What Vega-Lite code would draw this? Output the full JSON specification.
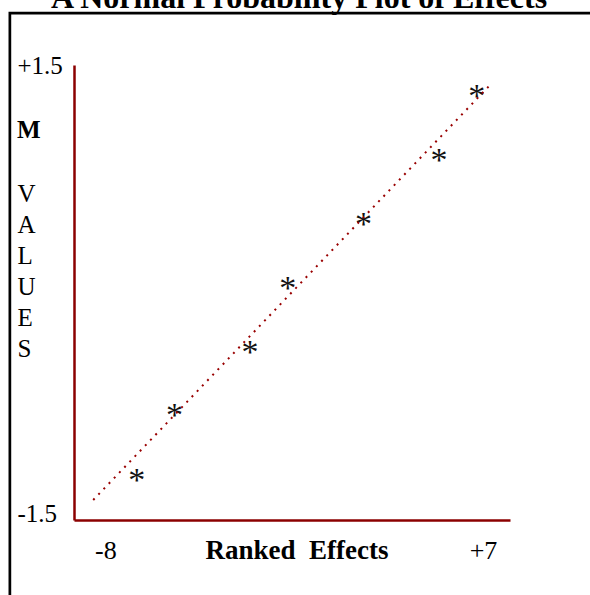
{
  "$schema": "https://vega.github.io/schema/vega-lite/v6.json",
  "width": 436,
  "height": 455,
  "autosize": {"type": "none"},
  "padding": {"left": 74, "top": 65, "right": 80, "bottom": 75},
  "background": "white",
  "config": {"view": {"stroke": null}, "font": "Liberation Serif"},
  "title": {
    "text": "A Normal Probability Plot of Effects",
    "font": "Liberation Serif",
    "fontSize": 32,
    "fontWeight": "bold",
    "color": "black",
    "anchor": "middle",
    "frame": "group",
    "baseline": "alphabetic",
    "offset": -28,
    "dx": 7
  },
  "datasets": {
    "effects": [
      {"effect": -6.75, "m": -1.255},
      {"effect": -5.25, "m": -0.825},
      {"effect": -2.25, "m": -0.398},
      {"effect": -0.75, "m": 0.03},
      {"effect": 2.25, "m": 0.455},
      {"effect": 5.25, "m": 0.883},
      {"effect": 6.75, "m": 1.313}
    ],
    "fit": [
      {"effect": -8.48, "m": -1.411},
      {"effect": 7.28, "m": 1.366}
    ]
  },
  "layer": [
    {
      "data": {"name": "effects"},
      "mark": {"type": "text", "text": "*", "font": "Liberation Serif", "fontSize": 34, "color": "#111111", "baseline": "middle", "dy": 4},
      "encoding": {
        "x": {
          "field": "effect",
          "type": "quantitative",
          "scale": {"domain": [-9.243, 8.072], "nice": false, "zero": false},
          "axis": {
            "values": [-8, 7],
            "labelExpr": "datum.value > 0 ? '+' + datum.value : '' + datum.value",
            "grid": false,
            "ticks": false,
            "tickSize": 0,
            "domainColor": "#8B0000",
            "domainWidth": 2.5,
            "labelFont": "Liberation Serif",
            "labelFontSize": 26,
            "labelColor": "black",
            "labelPadding": 17,
            "labelFlush": false,
            "labelOverlap": false,
            "title": "Ranked \u00a0Effects",
            "titleFont": "Liberation Serif",
            "titleFontSize": 27,
            "titleFontWeight": "bold",
            "titleColor": "black",
            "titleX": 222.5,
            "titleY": 38,
            "titleAlign": "center",
            "titleBaseline": "alphabetic"
          }
        },
        "y": {
          "field": "m",
          "type": "quantitative",
          "scale": {"domain": [-1.545, 1.5], "nice": false, "zero": false},
          "axis": {
            "values": [-1.5, 1.5],
            "labelExpr": "datum.value > 0 ? '+' + datum.value : '' + datum.value",
            "grid": false,
            "ticks": false,
            "tickSize": 0,
            "domainColor": "#8B0000",
            "domainWidth": 2.5,
            "labelFont": "Liberation Serif",
            "labelFontSize": 25,
            "labelColor": "black",
            "labelAlign": "left",
            "labelBaseline": "middle",
            "labelPadding": 57,
            "labelFlush": false,
            "labelOverlap": false,
            "title": ["V", "A", "L", "U", "E", "S"],
            "titleFont": "Liberation Serif",
            "titleFontSize": 25,
            "titleFontWeight": "normal",
            "titleColor": "black",
            "titleAngle": 0,
            "titleAlign": "left",
            "titleBaseline": "alphabetic",
            "titleLineHeight": 31,
            "titleX": -57,
            "titleY": 136
          }
        }
      }
    },
    {
      "data": {"name": "fit"},
      "mark": {"type": "line", "color": "#990000", "strokeWidth": 2, "strokeDash": [2, 5.5], "clip": false},
      "encoding": {
        "x": {"field": "effect", "type": "quantitative"},
        "y": {"field": "m", "type": "quantitative"}
      }
    },
    {
      "data": {"values": [{}]},
      "mark": {"type": "rect", "fill": null, "stroke": "black", "strokeWidth": 2.7, "clip": false},
      "encoding": {
        "x": {"datum": -11.79, "type": "quantitative"},
        "x2": {"datum": 14},
        "y": {"datum": 1.847, "type": "quantitative"},
        "y2": {"datum": -2.3}
      }
    },
    {
      "data": {"values": [{}]},
      "mark": {"type": "text", "text": "M", "font": "Liberation Serif", "fontSize": 25, "fontWeight": "bold", "color": "black", "align": "left", "baseline": "middle", "clip": false},
      "encoding": {
        "x": {"datum": -11.507, "type": "quantitative"},
        "y": {"datum": 1.068, "type": "quantitative"}
      }
    }
  ]
}
